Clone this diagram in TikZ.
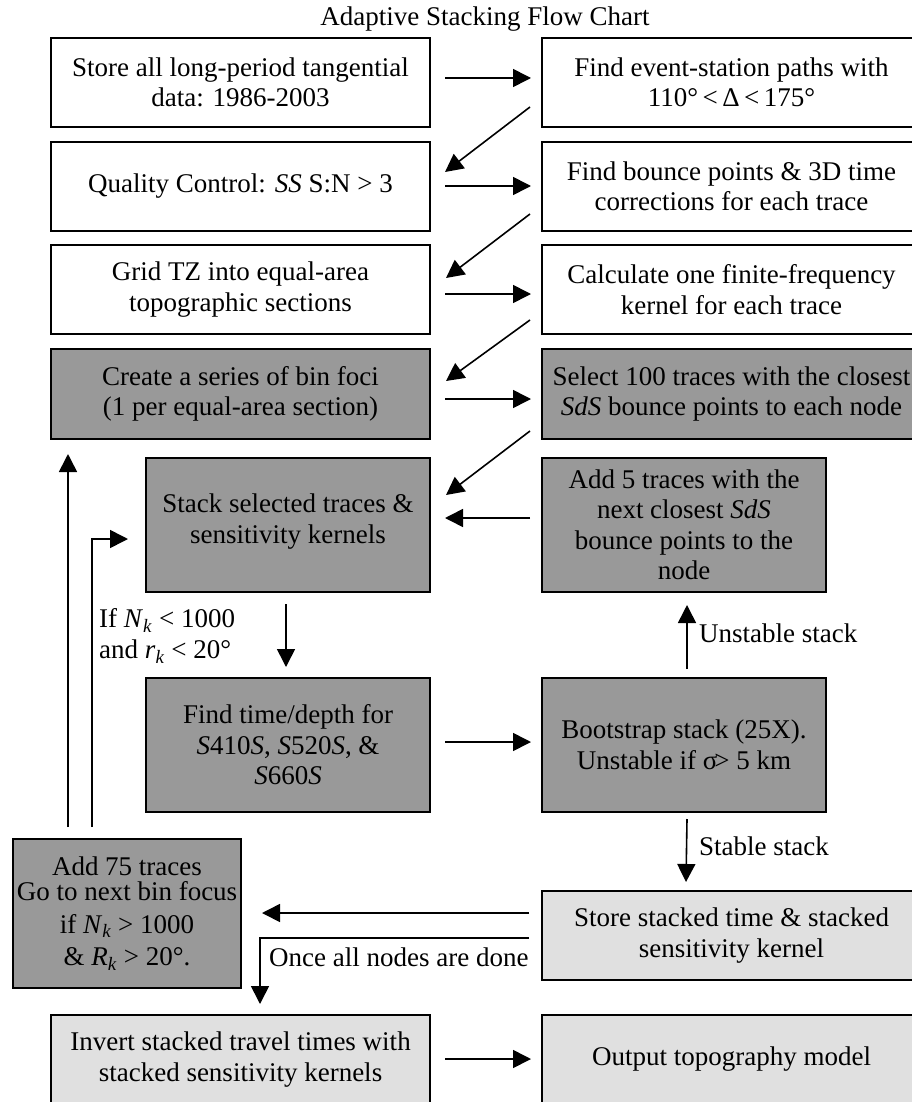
\documentclass[tikz,border=0pt]{standalone}
\usepackage{fontspec}
\setmainfont{Liberation Serif}
\usetikzlibrary{arrows.meta,calc}
\definecolor{dgray}{HTML}{999999}
\definecolor{lgray}{HTML}{E0E0E0}
\newcommand\subk{\textsubscript{\textit{k}}}
\newcommand\fsz{\fontsize{27}{30.5}\selectfont}
\tikzset{
  box/.style={draw=black, line width=2pt, anchor=north west, align=center, inner sep=0pt, font=\fsz},
  wbox/.style={box, fill=white},
  dbox/.style={box, fill=dgray},
  lbox/.style={box, fill=lgray},
  lab/.style={font=\fsz, inner sep=0pt},
  arr/.style={line width=1.6pt, -{Triangle[length=18pt,width=18pt]}}
}
\begin{document}
\begin{tikzpicture}[x=1pt,y=-1pt]
\useasboundingbox (0,0) rectangle (911,1102);
\node[lab] (title) at (485,19) {Adaptive Stacking Flow Chart};
% row 1
\node[wbox, minimum width=379pt, minimum height=89pt] (b1) at (50,37) {Store all long-period tangential\\data: 1986-2003};
\node[wbox, minimum width=379pt, minimum height=89pt] (b2) at (541,37) {Find event-station paths with\\110°\,<\,Δ\,<\,175°};
% row 2
\node[wbox, minimum width=379pt, minimum height=89pt] (b3) at (50,141) {Quality Control: \textit{SS} S:N > 3};
\node[wbox, minimum width=379pt, minimum height=89pt] (b4) at (541,141) {Find bounce points \& 3D time\\corrections for each trace};
% row 3
\node[wbox, minimum width=379pt, minimum height=89pt] (b5) at (50,244) {Grid TZ into equal-area\\topographic sections};
\node[wbox, minimum width=379pt, minimum height=89pt] (b6) at (541,244) {Calculate one finite-frequency\\kernel for each trace};
% row 4
\node[dbox, minimum width=379pt, minimum height=90pt] (b7) at (50,348) {Create a series of bin foci\\(1 per equal-area section)};
\node[dbox, minimum width=379pt, minimum height=90pt] (b8) at (541,348) {Select 100 traces with the closest\\\textit{SdS} bounce points to each node};
% row 5
\node[dbox, minimum width=284pt, minimum height=134pt] (b9) at (145,457) {Stack selected traces \&\\sensitivity kernels\\[-18pt]\mbox{}};
\node[dbox, minimum width=284pt, minimum height=134pt] (b10) at (541,457) {Add 5 traces with the\\next closest \textit{SdS}\\bounce points to the\\node};
% row 6
\node[dbox, minimum width=284pt, minimum height=134pt] (b11) at (145,677) {Find time/depth for\\\textit{S}410\textit{S}, \textit{S}520\textit{S}, \&\\\textit{S}660\textit{S}};
\node[dbox, minimum width=284pt, minimum height=134pt] (b12) at (541,677) {Bootstrap stack (25X).\\Unstable if σ\kern-3pt> 5 km};
% row 7
\node[dbox, minimum width=228pt, minimum height=149pt] (b13) at (12,838) {Add 75 traces\\[-5pt]Go to next bin focus\\[2pt]if \textit{N}\subk{} > 1000\\[2pt]\& \textit{R}\subk{} > 20°.};
\node[lbox, minimum width=379pt, minimum height=89pt] (b14) at (541,890) {Store stacked time \& stacked\\sensitivity kernel};
% row 8
\node[lbox, minimum width=379pt, minimum height=89pt] (b15) at (50,1014) {Invert stacked travel times with\\stacked sensitivity kernels};
\node[lbox, minimum width=379pt, minimum height=89pt] (b16) at (541,1014) {Output topography model};
% labels
\node[lab, anchor=west, align=left] (lcond) at (99,636) {If \textit{N}\subk{} < 1000\\and \textit{r}\subk{} < 20°};
\node[lab, anchor=west] (lunst) at (699,633) {Unstable stack};
\node[lab, anchor=west] (lstab) at (699,846) {Stable stack};
\node[lab, anchor=west] (lonce) at (269,957) {Once all nodes are done};
% arrows
\draw[arr] ($(b1.north east)+(14,41)$) -- ($(b2.north west)+(-10,41)$);
\draw[arr] ($(b2.south west)+(-11,-21)$) -- ($(b3.north east)+(14,31)$);
\draw[arr] ($(b3.north east)+(14,45)$) -- ($(b4.north west)+(-10,45)$);
\draw[arr] ($(b4.south west)+(-11,-18)$) -- ($(b5.north east)+(15,34)$);
\draw[arr] ($(b5.north east)+(14,50)$) -- ($(b6.north west)+(-10,50)$);
\draw[arr] ($(b6.south west)+(-11,-15)$) -- ($(b7.north east)+(15,33)$);
\draw[arr] ($(b7.north east)+(14,51)$) -- ($(b8.north west)+(-10,51)$);
\draw[arr] ($(b8.south west)+(-11,-9)$) -- ($(b9.north east)+(15,38)$);
\draw[arr] ($(b10.north west)+(-11,61)$) -- ($(b9.north east)+(14,61)$);
\draw[arr] ($(b9.south)+(-2,11)$) -- ($(b11.north)+(-2,-10)$);
\draw[arr] ($(b11.north east)+(14,65)$) -- ($(b12.north west)+(-10,65)$);
\draw[arr] ($(b12.north)+(3,-8)$) -- ($(b10.south)+(3,12)$);
\draw[arr] ($(b12.south)+(3,6)$) -- ($(b14.north west)+(145,-8)$);
\draw[arr] ($(b14.north west)+(-12,23)$) -- ($(b13.north east)+(20,75)$);
\draw[arr] ($(b14.north west)+(-12,48)$) -| ($(b15.north west)+(210,-10)$);
\draw[arr] ($(b15.north east)+(14,45)$) -- ($(b16.north west)+(-10,45)$);
\draw[arr] ($(b13.north west)+(56,-11)$) -- ($(b7.south west)+(18,14)$);
\draw[arr] ($(b13.north west)+(80,-11)$) |- ($(b9.south west)+(-17,-54)$);
\end{tikzpicture}
\end{document}
